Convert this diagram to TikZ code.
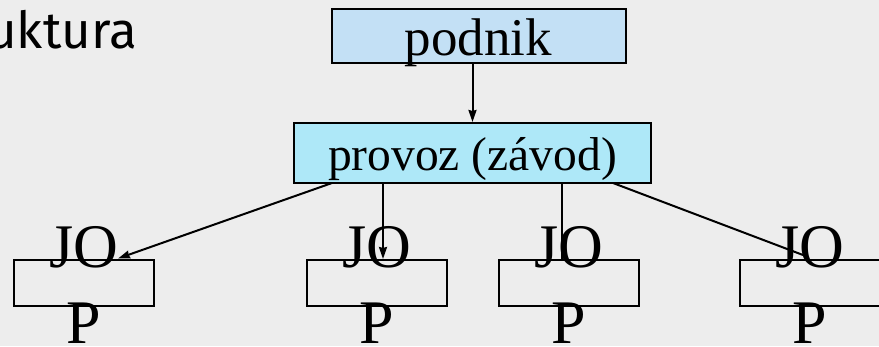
\documentclass[tikz,border=0pt]{standalone}
\usepackage{fontspec}
\setmainfont{Liberation Serif}
\newfontfamily\titlefont{Fira Sans}
\usetikzlibrary{arrows.meta,calc}
\definecolor{bg}{HTML}{EDEDED}
\definecolor{podfill}{HTML}{C3E0F5}
\definecolor{provfill}{HTML}{AEE8F8}
\tikzset{
  topbox/.style={draw=black, line width=2pt, inner sep=0pt},
  jbox/.style={draw=black, line width=2pt, inner sep=0pt, minimum width=140pt, minimum height=46pt},
  bigtxt/.style={inner sep=0pt, anchor=base, font=\fontsize{62}{62}\selectfont},
  conn/.style={line width=2pt},
  arr/.style={conn, -{Stealth[length=12pt,width=8pt,inset=1pt]}},
}
\begin{document}
\begin{tikzpicture}[x=1pt,y=-1pt]
\useasboundingbox (0,0) rectangle (879,346);
\clip (0,0) rectangle (879,346);
\fill[bg] (0,0) rectangle (879,346);
% title (cut off at left)
\node[inner sep=0pt, anchor=base east, font=\titlefont\fontsize{51}{51}\selectfont] (title) at (137,48) {Struktura};
% top boxes
\node[topbox, fill=podfill, minimum width=294pt, minimum height=54pt] (podnik) at (479,36) {};
\node[inner sep=0pt, anchor=base, font=\fontsize{53}{53}\selectfont] (podnikt) at (478.5,55) {podnik};
\node[topbox, fill=provfill, minimum width=357pt, minimum height=60pt] (provoz) at (472.5,153) {};
\node[inner sep=0pt, anchor=base, font=\fontsize{47.5}{47.5}\selectfont] (provozt) at (472.5,170) {provoz (závod)};
% lower boxes
\node[jbox] (j1) at (84,282.5) {};
\node[jbox] (j2) at (377,282.5) {};
\node[jbox] (j3) at (568.5,282.5) {};
\node[jbox] (j4) at (810,282.5) {};
% connectors
\coordinate (s1) at (332,183);
\coordinate (s2) at (383,183);
\coordinate (s3) at (562,183);
\coordinate (s4) at (613,183);
\coordinate (e1) at ($(j1.north)+(34,0)$);
\coordinate (e2) at (383,259);
\coordinate (e3) at (562,259);
\coordinate (e4) at (803,255);
\draw[arr] (podnik.south -| provoz.north) -- (provoz.north);
\draw[arr] (s1) -- (e1);
\draw[arr] (s2) -- (e2);
\draw[conn] (s3) -- (e3);
\draw[conn] (s4) -- (e4);
% labels
\foreach \n/\x in {j1/84, j2/377, j3/568.5, j4/810} {
  \node[bigtxt] (\n a) at (\x,267) {JO};
  \node[bigtxt] (\n b) at (\x,343) {P};
}
\end{tikzpicture}
\end{document}
